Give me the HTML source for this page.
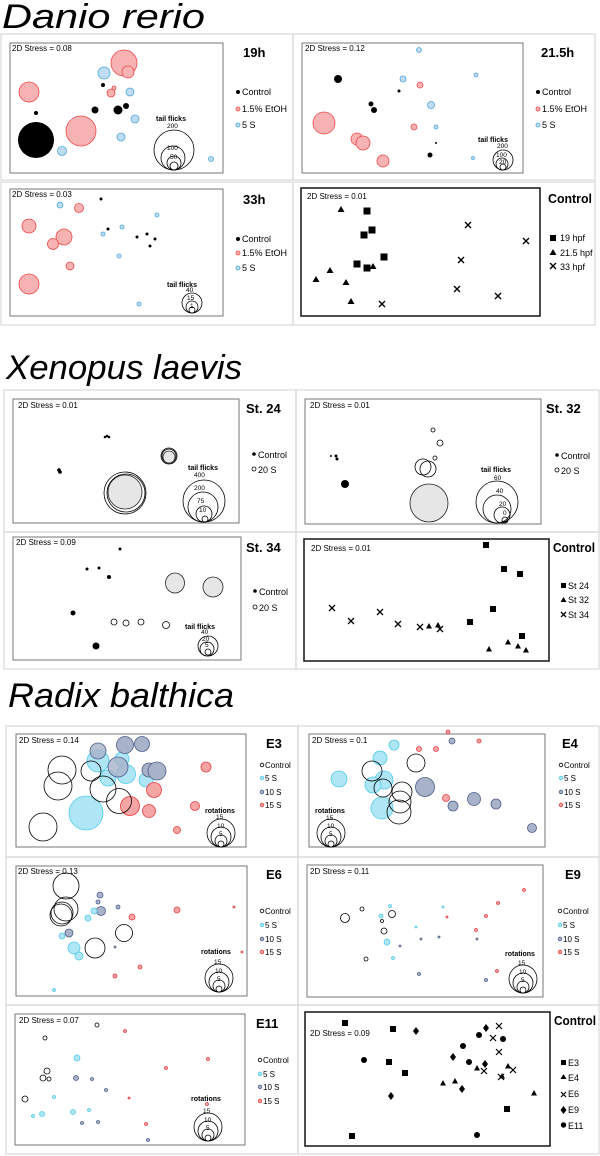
<!DOCTYPE html>
<html><head><meta charset="utf-8"><style>
html,body{margin:0;padding:0;background:#fff}
svg{display:block;font-family:"Liberation Sans",Arial,sans-serif}
.k{fill:#000}
.r{fill:#f7b3b3;stroke:#ee4848;stroke-width:.8}
.b{fill:#bfdcf0;stroke:#4aa6df;stroke-width:.8}
.c{fill:#aee6f6;stroke:#4fcbea;stroke-width:.8}
.n{fill:#a8b2c9;stroke:#4d5d8a;stroke-width:.8}
.rr{fill:#f6a5a5;stroke:#e83c3c;stroke-width:.8}
.o{fill:none;stroke:#000;stroke-width:.8}
.g{fill:#e6e6e6;stroke:#222;stroke-width:.8}
.ob{fill:none;stroke:#d8d8d8;stroke-width:1.2}
.pb{fill:none;stroke:#777;stroke-width:1}
.cb{fill:none;stroke:#222;stroke-width:1.6}
.s{font-size:8px}
.lg{font-size:9px}
.pl{font-size:13px;font-weight:bold}
.ct{font-size:13px;font-weight:bold}
.tf{font-size:7px;font-weight:bold}
.sm{font-size:6.5px}
.ti{font-size:34px;font-style:italic}
</style></head><body>
<svg width="600" height="1156" viewBox="0 0 600 1156">
<!-- Titles -->
<text class="ti" x="2" y="28" textLength="203" lengthAdjust="spacingAndGlyphs">Danio rerio</text>
<text class="ti" x="6" y="379" textLength="236" lengthAdjust="spacingAndGlyphs">Xenopus laevis</text>
<text class="ti" x="8" y="707" textLength="226" lengthAdjust="spacingAndGlyphs">Radix balthica</text>

<!-- Danio outer boxes -->
<rect class="ob" x="1" y="34" width="292" height="146"/>
<rect class="ob" x="293" y="34" width="302" height="146"/>
<rect class="ob" x="1" y="182" width="292" height="143"/>
<rect class="ob" x="293" y="182" width="302" height="143"/>

<!-- 19h -->
<rect class="pb" x="10" y="43" width="213" height="130"/>
<text class="s" x="12" y="51">2D Stress = 0.08</text>
<text class="pl" x="243" y="57">19h</text>
<circle class="r" cx="124" cy="63" r="13"/><circle class="r" cx="128" cy="72" r="6"/>
<circle class="b" cx="104" cy="73" r="6"/><circle class="r" cx="29" cy="92" r="10"/>
<circle class="k" cx="103" cy="85" r="2"/><circle class="r" cx="114" cy="88" r="2"/>
<circle class="r" cx="111" cy="93" r="4"/><circle class="b" cx="130" cy="92" r="4"/>
<circle class="k" cx="36" cy="113" r="2"/><circle class="k" cx="95" cy="110" r="3.5"/>
<circle class="k" cx="118" cy="110" r="4.5"/><circle class="k" cx="126" cy="106" r="3"/>
<circle class="b" cx="135" cy="119" r="4"/><circle class="r" cx="81" cy="131" r="15"/>
<circle class="k" cx="36" cy="140" r="18"/><circle class="b" cx="62" cy="151" r="4.5"/>
<circle class="b" cx="121" cy="137" r="4"/><circle class="b" cx="211" cy="159" r="2.5"/>
<text class="tf" x="156" y="121">tail flicks</text>
<circle class="o" cx="174" cy="150" r="20"/><circle class="o" cx="173" cy="158" r="12"/>
<circle class="o" cx="174" cy="163" r="7"/><circle class="o" cx="174" cy="166" r="4"/>
<text class="sm" x="167" y="128">200</text><text class="sm" x="167" y="150">100</text><text class="sm" x="170" y="159">50</text>
<circle class="k" cx="238" cy="92" r="2"/><text class="lg" x="242" y="95">Control</text>
<circle class="r" cx="238" cy="109" r="2"/><text class="lg" x="242" y="112">1.5% EtOH</text>
<circle class="b" cx="238" cy="125" r="2"/><text class="lg" x="242" y="128">5 S</text>

<!-- 21.5h -->
<rect class="pb" x="302" y="43" width="221" height="130"/>
<text class="s" x="305" y="51">2D Stress = 0.12</text>
<text class="pl" x="541" y="57">21.5h</text>
<circle class="b" cx="419" cy="50" r="2.5"/><circle class="k" cx="338" cy="79" r="4"/>
<circle class="b" cx="403" cy="79" r="3"/><circle class="r" cx="420" cy="85" r="3"/>
<circle class="b" cx="476" cy="75" r="2"/><circle class="k" cx="399" cy="91" r="1.5"/>
<circle class="k" cx="371" cy="104" r="2.5"/><circle class="k" cx="374" cy="110" r="3"/>
<circle class="b" cx="431" cy="105" r="3.5"/><circle class="r" cx="324" cy="123" r="11"/>
<circle class="r" cx="414" cy="127" r="3"/><circle class="b" cx="436" cy="127" r="2"/>
<circle class="r" cx="357" cy="139" r="6"/><circle class="r" cx="363" cy="143" r="7"/>
<circle class="k" cx="436" cy="143" r="1"/><circle class="k" cx="430" cy="155" r="2.5"/>
<circle class="r" cx="383" cy="161" r="6"/><circle class="b" cx="473" cy="158" r="1.5"/>
<text class="tf" x="478" y="142">tail flicks</text>
<circle class="o" cx="503" cy="160" r="10"/><circle class="o" cx="502" cy="164" r="6"/><circle class="o" cx="503" cy="167" r="3"/>
<text class="sm" x="497" y="148">200</text><text class="sm" x="496" y="157">100</text><text class="sm" x="499" y="164">20</text>
<circle class="k" cx="538" cy="92" r="2"/><text class="lg" x="542" y="95">Control</text>
<circle class="r" cx="538" cy="109" r="2"/><text class="lg" x="542" y="112">1.5% EtOH</text>
<circle class="b" cx="538" cy="125" r="2"/><text class="lg" x="542" y="128">5 S</text>

<!-- 33h -->
<rect class="pb" x="10" y="189" width="213" height="127"/>
<text class="s" x="12" y="197">2D Stress = 0.03</text>
<text class="pl" x="243" y="204">33h</text>
<circle class="k" cx="101" cy="199" r="1.5"/><circle class="b" cx="60" cy="205" r="3"/>
<circle class="r" cx="79" cy="208" r="4.5"/><circle class="b" cx="157" cy="215" r="2"/>
<circle class="r" cx="29" cy="226" r="7"/><circle class="k" cx="108" cy="229" r="1.5"/>
<circle class="b" cx="122" cy="227" r="2"/><circle class="b" cx="103" cy="234" r="2"/>
<circle class="r" cx="64" cy="237" r="8"/><circle class="r" cx="53" cy="244" r="5.5"/>
<circle class="k" cx="137" cy="237" r="1.5"/><circle class="k" cx="147" cy="234" r="1.5"/>
<circle class="k" cx="155" cy="239" r="1.5"/><circle class="k" cx="150" cy="246" r="1.5"/>
<circle class="b" cx="119" cy="256" r="2"/><circle class="r" cx="70" cy="266" r="4"/>
<circle class="r" cx="29" cy="284" r="10"/><circle class="b" cx="139" cy="304" r="2"/>
<text class="tf" x="167" y="287">tail flicks</text>
<circle class="o" cx="192" cy="303" r="10"/><circle class="o" cx="192" cy="307" r="6"/><circle class="o" cx="192" cy="310" r="3"/>
<text class="sm" x="186" y="292">40</text><text class="sm" x="187" y="300">15</text><text class="sm" x="190" y="308">1</text>
<circle class="k" cx="238" cy="239" r="2"/><text class="lg" x="242" y="242">Control</text>
<circle class="r" cx="238" cy="253" r="2"/><text class="lg" x="242" y="256">1.5% EtOH</text>
<circle class="b" cx="238" cy="268" r="2"/><text class="lg" x="242" y="271">5 S</text>

<!-- Danio Control -->
<rect class="cb" x="301" y="188" width="239" height="128"/>
<text class="s" x="307" y="199">2D Stress = 0.01</text>
<text class="ct" x="548" y="203" textLength="44" lengthAdjust="spacingAndGlyphs">Control</text>
<g class="k">
<path d="M341 206l3.5 6h-7zM330 267l3.5 6h-7zM316 276l3.5 6h-7zM346 279l3.5 6h-7zM373 263l3.5 6h-7zM351 298l3.5 6h-7z"/>
<rect x="363.5" y="207.5" width="7" height="7"/><rect x="368.5" y="226.5" width="7" height="7"/>
<rect x="360.5" y="231.5" width="7" height="7"/><rect x="380.5" y="253.5" width="7" height="7"/>
<rect x="353.5" y="260.5" width="7" height="7"/><rect x="363.5" y="264.5" width="7" height="7"/>
<rect x="550" y="235" width="6" height="6"/>
<path d="M553 249l3.5 6h-7z"/>
</g>
<g stroke="#000" stroke-width="1.4">
<path d="M465 222l6 6M471 222l-6 6M523 238l6 6M529 238l-6 6M458 257l6 6M464 257l-6 6M454 286l6 6M460 286l-6 6M495 293l6 6M501 293l-6 6M379 301l6 6M385 301l-6 6"/>
<path d="M550 263l6 6M556 263l-6 6"/>
</g>
<text class="lg" x="560" y="241">19 hpf</text>
<text class="lg" x="560" y="256">21.5 hpf</text>
<text class="lg" x="560" y="270">33 hpf</text>

<!-- Xenopus outer -->
<rect class="ob" x="4" y="390" width="292" height="142"/>
<rect class="ob" x="296" y="390" width="303" height="142"/>
<rect class="ob" x="4" y="532" width="292" height="137"/>
<rect class="ob" x="296" y="532" width="303" height="137"/>

<!-- St 24 -->
<rect class="pb" x="13" y="399" width="226" height="124"/>
<text class="s" x="18" y="408">2D Stress = 0.01</text>
<text class="pl" x="246" y="413">St. 24</text>
<circle class="k" cx="105" cy="437" r="1.3"/><circle class="k" cx="107" cy="436" r="1.3"/><circle class="k" cx="109" cy="437" r="1.3"/>
<circle class="k" cx="59" cy="470" r="1.8"/><circle class="k" cx="60" cy="472" r="1.8"/>
<circle class="o" cx="169" cy="456" r="8"/><circle class="o" cx="169" cy="456" r="7"/><circle class="g" cx="169" cy="457" r="6"/>
<circle class="o" cx="125" cy="493" r="21"/><circle class="o" cx="126" cy="493" r="19"/><circle class="g" cx="125" cy="492" r="17"/>
<text class="tf" x="188" y="470">tail flicks</text>
<circle class="o" cx="204" cy="501" r="21"/><circle class="o" cx="203" cy="507" r="15"/>
<circle class="o" cx="204" cy="514" r="8"/><circle class="o" cx="205" cy="519" r="3"/>
<text class="sm" x="194" y="477">400</text><text class="sm" x="194" y="490">200</text><text class="sm" x="197" y="503">75</text><text class="sm" x="199" y="512">10</text>
<circle class="k" cx="254" cy="454" r="1.8"/><text class="lg" x="258" y="458">Control</text>
<circle class="o" cx="254" cy="469" r="2"/><text class="lg" x="258" y="473">20 S</text>

<!-- St 32 -->
<rect class="pb" x="305" y="399" width="236" height="125"/>
<text class="s" x="310" y="408">2D Stress = 0.01</text>
<text class="pl" x="546" y="413">St. 32</text>
<circle class="k" cx="331" cy="456" r="1"/><circle class="k" cx="336" cy="456" r="1.5"/><circle class="k" cx="337" cy="459" r="1.5"/>
<circle class="k" cx="345" cy="484" r="4"/>
<circle class="o" cx="433" cy="430" r="2"/><circle class="o" cx="440" cy="443" r="3"/><circle class="o" cx="435" cy="458" r="2"/>
<circle class="o" cx="423" cy="467" r="8"/><circle class="o" cx="428" cy="469" r="8"/>
<circle class="g" cx="429" cy="503" r="19"/>
<text class="tf" x="481" y="472">tail flicks</text>
<circle class="o" cx="497" cy="502" r="21"/><circle class="o" cx="497" cy="509" r="14"/>
<circle class="o" cx="502" cy="515" r="8"/><circle class="o" cx="505" cy="520" r="3"/>
<text class="sm" x="494" y="480">60</text><text class="sm" x="496" y="493">40</text><text class="sm" x="499" y="506">20</text><text class="sm" x="503" y="515">0</text>
<circle class="k" cx="557" cy="455" r="1.8"/><text class="lg" x="561" y="459">Control</text>
<circle class="o" cx="557" cy="470" r="2"/><text class="lg" x="561" y="474">20 S</text>

<!-- St 34 -->
<rect class="pb" x="13" y="537" width="228" height="123"/>
<text class="s" x="16" y="545">2D Stress = 0.09</text>
<text class="pl" x="246" y="552">St. 34</text>
<circle class="k" cx="120" cy="549" r="1.5"/><circle class="k" cx="87" cy="569" r="1.5"/>
<circle class="k" cx="99" cy="568" r="1.5"/><circle class="k" cx="109" cy="577" r="2"/>
<circle class="k" cx="73" cy="613" r="2.5"/><circle class="k" cx="96" cy="646" r="3.5"/>
<ellipse class="g" cx="175" cy="583" rx="9.5" ry="10"/><ellipse class="g" cx="213" cy="587" rx="10" ry="10"/>
<circle class="o" cx="114" cy="622" r="3"/><circle class="o" cx="126" cy="623" r="3"/>
<circle class="o" cx="141" cy="622" r="3"/><circle class="o" cx="166" cy="625" r="3.5"/>
<text class="tf" x="185" y="629">tail flicks</text>
<circle class="o" cx="208" cy="646" r="10"/><circle class="o" cx="207" cy="649" r="7"/><circle class="o" cx="208" cy="652" r="3"/>
<text class="sm" x="201" y="634">40</text><text class="sm" x="202" y="641">20</text><text class="sm" x="205" y="647">5</text>
<circle class="k" cx="255" cy="591" r="1.8"/><text class="lg" x="259" y="595">Control</text>
<circle class="o" cx="255" cy="607" r="2"/><text class="lg" x="259" y="611">20 S</text>

<!-- Xenopus Control -->
<rect class="cb" x="304" y="539" width="245" height="122"/>
<text class="s" x="311" y="551">2D Stress = 0.01</text>
<text class="ct" x="553" y="552" textLength="42" lengthAdjust="spacingAndGlyphs">Control</text>
<g class="k">
<rect x="483" y="542" width="6" height="6"/><rect x="501" y="566" width="6" height="6"/>
<rect x="517" y="571" width="6" height="6"/><rect x="490" y="606" width="6" height="6"/>
<rect x="467" y="619" width="6" height="6"/><rect x="519" y="633" width="6" height="6"/>
<path d="M429 623l3 5.5h-6zM438 622l3 5.5h-6zM489 646l3 5.5h-6zM508 639l3 5.5h-6zM518 643l3 5.5h-6zM526 647l3 5.5h-6z"/>
<rect x="561" y="583" width="5" height="5"/><path d="M563.5 597l3 5h-6z"/>
</g>
<g stroke="#000" stroke-width="1.3"><path d="M329 605l6 6M335 605l-6 6M348 618l6 6M354 618l-6 6M377 609l6 6M383 609l-6 6M395 621l6 6M401 621l-6 6M417 624l6 6M423 624l-6 6M437 626l6 6M443 626l-6 6M561 612l5 5M566 612l-5 5"/></g>
<text class="lg" x="568" y="589">St 24</text><text class="lg" x="568" y="603">St 32</text><text class="lg" x="568" y="618">St 34</text>

<!-- Radix outer -->
<rect class="ob" x="6" y="726" width="292" height="131"/>
<rect class="ob" x="298" y="726" width="301" height="131"/>
<rect class="ob" x="6" y="857" width="292" height="148"/>
<rect class="ob" x="298" y="857" width="301" height="148"/>
<rect class="ob" x="6" y="1005" width="292" height="149"/>
<rect class="ob" x="298" y="1005" width="301" height="149"/>

<!-- E3 -->
<rect class="pb" x="16" y="734" width="230" height="113"/>
<text class="s" x="19" y="743">2D Stress = 0.14</text>
<text class="pl" x="266" y="748">E3</text>
<circle class="c" cx="86" cy="813" r="17"/>
<circle class="c" cx="98" cy="761" r="11"/><circle class="c" cx="122" cy="759" r="7"/>
<circle class="c" cx="126" cy="774" r="9.5"/><circle class="c" cx="108" cy="778" r="8"/><circle class="c" cx="146" cy="780" r="7"/>
<circle class="n" cx="98" cy="751" r="8" fill-opacity=".8"/><circle class="n" cx="125" cy="745" r="8.5"/>
<circle class="n" cx="142" cy="744" r="7.5"/><circle class="n" cx="118" cy="767" r="10" fill-opacity=".8"/>
<circle class="n" cx="149" cy="770" r="7"/><circle class="n" cx="157" cy="771" r="9"/>
<circle class="rr" cx="206" cy="767" r="5"/><circle class="rr" cx="154" cy="790" r="7.5"/>
<circle class="rr" cx="130" cy="806" r="9.5"/><circle class="rr" cx="149" cy="811" r="6.5"/>
<circle class="rr" cx="195" cy="806" r="4.5"/><circle class="rr" cx="177" cy="830" r="3.5"/>
<circle class="o" cx="62" cy="770" r="14"/><circle class="o" cx="58" cy="786" r="14"/>
<circle class="o" cx="91" cy="771" r="10"/><circle class="o" cx="103" cy="789" r="13"/>
<circle class="o" cx="119" cy="801" r="12.5"/><circle class="o" cx="43" cy="827" r="14"/>
<text class="tf" x="205" y="813">rotations</text>
<circle class="o" cx="221" cy="833" r="14"/><circle class="o" cx="221" cy="837" r="10"/>
<circle class="o" cx="221" cy="841" r="6"/><circle class="o" cx="221" cy="844" r="3"/>
<text class="sm" x="216" y="819">15</text><text class="sm" x="217" y="828">10</text><text class="sm" x="219" y="836">5</text>
<circle class="o" cx="262" cy="765" r="1.8"/><text class="lg" x="265" y="768" style="font-size:8px">Control</text>
<circle class="c" cx="262" cy="778" r="1.8"/><text class="lg" x="265" y="781" style="font-size:8px">5 S</text>
<circle class="n" cx="262" cy="792" r="1.8"/><text class="lg" x="265" y="795" style="font-size:8px">10 S</text>
<circle class="rr" cx="262" cy="805" r="1.8"/><text class="lg" x="265" y="808" style="font-size:8px">15 S</text>

<!-- E4 -->
<rect class="pb" x="309" y="734" width="236" height="113"/>
<text class="s" x="312" y="743">2D Stress = 0.1</text>
<text class="pl" x="562" y="748">E4</text>
<circle class="c" cx="394" cy="745" r="5"/><circle class="c" cx="380" cy="758" r="7"/>
<circle class="c" cx="339" cy="779" r="8"/><circle class="c" cx="384" cy="780" r="9"/>
<circle class="c" cx="373" cy="785" r="8"/><circle class="c" cx="382" cy="808" r="11"/>
<circle class="rr" cx="448" cy="732" r="2"/><circle class="rr" cx="479" cy="741" r="2"/>
<circle class="rr" cx="419" cy="749" r="2.5"/><circle class="rr" cx="436" cy="749" r="2.5"/><circle class="rr" cx="446" cy="798" r="3.5"/>
<circle class="n" cx="452" cy="741" r="3"/><circle class="n" cx="425" cy="787" r="9.5"/>
<circle class="n" cx="474" cy="799" r="6.5"/><circle class="n" cx="453" cy="806" r="5"/>
<circle class="n" cx="496" cy="804" r="5"/><circle class="n" cx="532" cy="828" r="4.5"/>
<circle class="o" cx="416" cy="763" r="9"/><circle class="o" cx="372" cy="771" r="10"/>
<circle class="o" cx="383" cy="788" r="9"/><circle class="o" cx="402" cy="792" r="10"/>
<circle class="o" cx="400" cy="802" r="11"/><circle class="o" cx="399" cy="812" r="12"/>
<text class="tf" x="315" y="813">rotations</text>
<circle class="o" cx="331" cy="833" r="14"/><circle class="o" cx="331" cy="837" r="10"/>
<circle class="o" cx="331" cy="841" r="6"/><circle class="o" cx="331" cy="844" r="3"/>
<text class="sm" x="326" y="820">15</text><text class="sm" x="327" y="828">10</text><text class="sm" x="329" y="836">5</text>
<circle class="o" cx="561" cy="765" r="1.8"/><text class="lg" x="564" y="768" style="font-size:8px">Control</text>
<circle class="c" cx="561" cy="778" r="1.8"/><text class="lg" x="564" y="781" style="font-size:8px">5 S</text>
<circle class="n" cx="561" cy="792" r="1.8"/><text class="lg" x="564" y="795" style="font-size:8px">10 S</text>
<circle class="rr" cx="561" cy="805" r="1.8"/><text class="lg" x="564" y="808" style="font-size:8px">15 S</text>

<!-- E6 -->
<rect class="pb" x="16" y="866" width="231" height="130"/>
<text class="s" x="18" y="874">2D Stress = 0.13</text>
<text class="pl" x="266" y="879">E6</text>
<circle class="n" cx="100" cy="895" r="3"/><circle class="n" cx="98" cy="902" r="2"/>
<circle class="n" cx="118" cy="907" r="2"/><circle class="n" cx="101" cy="911" r="4.5"/>
<circle class="n" cx="69" cy="933" r="4"/><circle class="n" cx="115" cy="947" r="1"/>
<circle class="c" cx="94" cy="911" r="3"/><circle class="c" cx="88" cy="918" r="3"/>
<circle class="c" cx="62" cy="936" r="3"/><circle class="c" cx="74" cy="948" r="6"/>
<circle class="c" cx="79" cy="956" r="4"/><circle class="c" cx="54" cy="990" r="1.5"/>
<circle class="rr" cx="177" cy="910" r="3"/><circle class="rr" cx="234" cy="907" r="1"/>
<circle class="rr" cx="132" cy="917" r="3"/><circle class="rr" cx="242" cy="952" r="1"/>
<circle class="rr" cx="140" cy="967" r="2"/><circle class="rr" cx="115" cy="976" r="2"/>
<circle class="o" cx="66" cy="886" r="13"/><circle class="o" cx="66" cy="909" r="12"/>
<circle class="o" cx="62" cy="913" r="11"/><circle class="o" cx="61" cy="915" r="11"/>
<circle class="o" cx="124" cy="933" r="8.5"/><circle class="o" cx="95" cy="948" r="10"/>
<text class="tf" x="201" y="954">rotations</text>
<circle class="o" cx="219" cy="978" r="14"/><circle class="o" cx="219" cy="982" r="10"/>
<circle class="o" cx="219" cy="986" r="6"/><circle class="o" cx="219" cy="989" r="3"/>
<text class="sm" x="214" y="964">15</text><text class="sm" x="215" y="973">10</text><text class="sm" x="217" y="981">5</text>
<circle class="o" cx="262" cy="911" r="1.8"/><text class="lg" x="265" y="914" style="font-size:8px">Control</text>
<circle class="c" cx="262" cy="925" r="1.8"/><text class="lg" x="265" y="928" style="font-size:8px">5 S</text>
<circle class="n" cx="262" cy="939" r="1.8"/><text class="lg" x="265" y="942" style="font-size:8px">10 S</text>
<circle class="rr" cx="262" cy="952" r="1.8"/><text class="lg" x="265" y="955" style="font-size:8px">15 S</text>

<!-- E9 -->
<rect class="pb" x="307" y="865" width="236" height="132"/>
<text class="s" x="310" y="874">2D Stress = 0.11</text>
<text class="pl" x="565" y="879">E9</text>
<circle class="o" cx="345" cy="918" r="4.5"/><circle class="o" cx="362" cy="909" r="2"/>
<circle class="o" cx="392" cy="914" r="3.5"/><circle class="o" cx="382" cy="921" r="1.5"/>
<circle class="o" cx="384" cy="931" r="3"/><circle class="o" cx="366" cy="959" r="2"/>
<circle class="c" cx="390" cy="906" r="1.5"/><circle class="c" cx="381" cy="916" r="2"/>
<circle class="c" cx="387" cy="942" r="3"/><circle class="c" cx="443" cy="907" r="1"/>
<circle class="c" cx="416" cy="927" r="1"/><circle class="c" cx="393" cy="958" r="1.5"/>
<circle class="n" cx="400" cy="946" r="1"/><circle class="n" cx="421" cy="939" r="1"/>
<circle class="n" cx="439" cy="937" r="1"/><circle class="n" cx="477" cy="939" r="1"/>
<circle class="n" cx="419" cy="974" r="1.5"/><circle class="n" cx="486" cy="980" r="1.5"/>
<circle class="rr" cx="524" cy="890" r="1.5"/><circle class="rr" cx="498" cy="903" r="1.5"/>
<circle class="rr" cx="447" cy="917" r="1"/><circle class="rr" cx="486" cy="916" r="1.5"/>
<circle class="rr" cx="476" cy="930" r="1.5"/><circle class="rr" cx="497" cy="971" r="1.5"/>
<text class="tf" x="505" y="956">rotations</text>
<circle class="o" cx="523" cy="979" r="14"/><circle class="o" cx="523" cy="983" r="10"/>
<circle class="o" cx="523" cy="987" r="6"/><circle class="o" cx="523" cy="990" r="3"/>
<text class="sm" x="518" y="965">15</text><text class="sm" x="519" y="974">10</text><text class="sm" x="521" y="982">5</text>
<circle class="o" cx="560" cy="911" r="1.8"/><text class="lg" x="563" y="914" style="font-size:8px">Control</text>
<circle class="c" cx="560" cy="925" r="1.8"/><text class="lg" x="563" y="928" style="font-size:8px">5 S</text>
<circle class="n" cx="560" cy="939" r="1.8"/><text class="lg" x="563" y="942" style="font-size:8px">10 S</text>
<circle class="rr" cx="560" cy="952" r="1.8"/><text class="lg" x="563" y="955" style="font-size:8px">15 S</text>

<!-- E11 -->
<rect class="pb" x="15" y="1014" width="230" height="131"/>
<text class="s" x="19" y="1023">2D Stress = 0.07</text>
<text class="pl" x="256" y="1028">E11</text>
<circle class="o" cx="97" cy="1025" r="2"/><circle class="o" cx="45" cy="1038" r="2"/>
<circle class="o" cx="47" cy="1071" r="3"/><circle class="o" cx="43" cy="1078" r="3"/>
<circle class="o" cx="49" cy="1079" r="2"/><circle class="o" cx="25" cy="1099" r="3"/>
<circle class="c" cx="77" cy="1058" r="3"/><circle class="c" cx="54" cy="1097" r="1.5"/>
<circle class="c" cx="42" cy="1114" r="2.5"/><circle class="c" cx="33" cy="1116" r="1.5"/>
<circle class="c" cx="73" cy="1112" r="2.5"/><circle class="c" cx="89" cy="1110" r="1.5"/>
<circle class="n" cx="76" cy="1078" r="2.5"/><circle class="n" cx="92" cy="1079" r="1.5"/>
<circle class="n" cx="106" cy="1090" r="1.5"/><circle class="n" cx="82" cy="1123" r="1.5"/>
<circle class="n" cx="98" cy="1122" r="1.5"/><circle class="n" cx="148" cy="1140" r="1.5"/>
<circle class="rr" cx="125" cy="1031" r="1.5"/><circle class="rr" cx="208" cy="1059" r="1.5"/>
<circle class="rr" cx="166" cy="1068" r="1.5"/><circle class="rr" cx="129" cy="1098" r="1"/>
<circle class="rr" cx="207" cy="1104" r="1.5"/><circle class="rr" cx="146" cy="1124" r="1.5"/>
<text class="tf" x="191" y="1101">rotations</text>
<circle class="o" cx="208" cy="1127" r="14"/><circle class="o" cx="208" cy="1131" r="10"/>
<circle class="o" cx="208" cy="1135" r="6"/><circle class="o" cx="208" cy="1138" r="3"/>
<text class="sm" x="203" y="1113">15</text><text class="sm" x="204" y="1122">10</text><text class="sm" x="206" y="1130">5</text>
<circle class="o" cx="260" cy="1060" r="1.8"/><text class="lg" x="263" y="1063" style="font-size:8px">Control</text>
<circle class="c" cx="260" cy="1074" r="1.8"/><text class="lg" x="263" y="1077" style="font-size:8px">5 S</text>
<circle class="n" cx="260" cy="1087" r="1.8"/><text class="lg" x="263" y="1090" style="font-size:8px">10 S</text>
<circle class="rr" cx="260" cy="1101" r="1.8"/><text class="lg" x="263" y="1104" style="font-size:8px">15 S</text>

<!-- Radix Control -->
<rect class="cb" x="305" y="1012" width="245" height="134"/>
<text class="s" x="310" y="1036">2D Stress = 0.09</text>
<text class="ct" x="554" y="1025" textLength="42" lengthAdjust="spacingAndGlyphs">Control</text>
<g class="k">
<rect x="342" y="1020" width="6" height="6"/><rect x="390" y="1026" width="6" height="6"/>
<rect x="386" y="1059" width="6" height="6"/><rect x="402" y="1070" width="6" height="6"/>
<rect x="504" y="1106" width="6" height="6"/><rect x="349" y="1133" width="6" height="6"/>
<path d="M443 1080l3 5.5h-6zM455 1078l3 5.5h-6zM477 1065l3 5.5h-6zM508 1063l3 5.5h-6zM534 1090l3 5.5h-6zM502 1073l3 5.5h-6z"/>
<path d="M416 1027l3 4-3 4-3-4zM486 1024l3 4-3 4-3-4zM453 1053l3 4-3 4-3-4zM485 1060l3 4-3 4-3-4zM462 1085l3 4-3 4-3-4zM391 1092l3 4-3 4-3-4z"/>
<circle cx="479" cy="1035" r="3"/><circle cx="503" cy="1039" r="3"/><circle cx="463" cy="1046" r="3"/>
<circle cx="364" cy="1060" r="3"/><circle cx="469" cy="1062" r="3"/><circle cx="477" cy="1135" r="3"/>
<rect x="561" y="1060" width="5" height="5"/><path d="M563.5 1074l3 5h-6z"/>
<path d="M563.5 1106l3 4-3 4-3-4z"/><circle cx="563.5" cy="1125" r="2.7"/>
</g>
<g stroke="#000" stroke-width="1.2"><path d="M496 1023l6 6M502 1023l-6 6M490 1035l6 6M496 1035l-6 6M496 1049l6 6M502 1049l-6 6M481 1068l6 6M487 1068l-6 6M510 1067l6 6M516 1067l-6 6M498 1074l6 6M504 1074l-6 6M561 1092l5 5M566 1092l-5 5"/></g>
<text class="lg" x="568" y="1066">E3</text><text class="lg" x="568" y="1081">E4</text>
<text class="lg" x="568" y="1097">E6</text><text class="lg" x="568" y="1113">E9</text><text class="lg" x="568" y="1129">E11</text>
</svg>
</body></html>
